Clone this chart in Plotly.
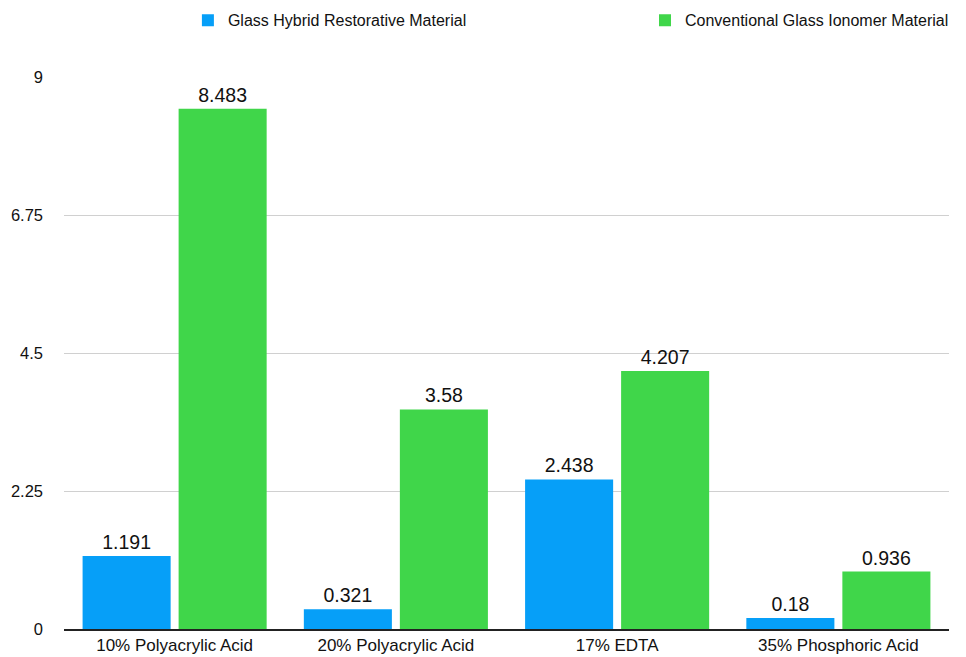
import plotly.graph_objects as go

categories = ["10% Polyacrylic Acid", "20% Polyacrylic Acid", "17% EDTA", "35% Phosphoric Acid"]
hybrid = [1.191, 0.321, 2.438, 0.18]
conventional = [8.483, 3.58, 4.207, 0.936]
y_ticks = [0, 2.25, 4.5, 6.75, 9]
y_tick_text = ["0", "2.25", "4.5", "6.75", "9"]

FONT = "Liberation Sans, Arial, Helvetica, sans-serif"
TEXT = "#111111"

fig = go.Figure()
fig.add_trace(go.Bar(
    name="Glass Hybrid Restorative Material",
    x=categories, y=hybrid,
    marker=dict(color="#069ff8", line=dict(width=0)),
    text=[str(v) for v in hybrid], textposition="outside",
    textfont=dict(size=19.5, color=TEXT), cliponaxis=False,
    legend="legend",
))
fig.add_trace(go.Bar(
    name="Conventional Glass Ionomer Material",
    x=categories, y=conventional,
    marker=dict(color="#40d64a", line=dict(width=0)),
    text=[str(v) for v in conventional], textposition="outside",
    textfont=dict(size=19.5, color=TEXT), cliponaxis=False,
    legend="legend2",
))

legend_style = dict(
    orientation="h", yref="container", y=0.995, yanchor="top",
    xanchor="left", font=dict(size=16, color=TEXT),
    bgcolor="rgba(0,0,0,0)",
)

fig.update_layout(
    width=966, height=657,
    margin=dict(l=64, r=17, t=77, b=28),
    paper_bgcolor="white", plot_bgcolor="white",
    font=dict(family=FONT, color=TEXT),
    barmode="group", bargap=0.132, bargroupgap=0.083,
    showlegend=True,
    legend=dict(legend_style, x=0.14),
    legend2=dict(legend_style, x=0.6565),
    uniformtext=dict(minsize=19, mode="show"),
)
fig.update_yaxes(
    range=[0, 9], tickvals=y_ticks, ticktext=y_tick_text,
    showgrid=True, gridcolor="#d0d0d0", gridwidth=1,
    zeroline=False, showline=False, ticks="", automargin=False,
    tickfont=dict(size=16.5, color=TEXT), ticklabelstandoff=20,
)
fig.update_xaxes(
    showline=True, linecolor="#222222", linewidth=1.5, ticks="",
    automargin=False,
    tickfont=dict(size=17, color=TEXT), ticklabelstandoff=0,
)

fig.write_html("out.html")
